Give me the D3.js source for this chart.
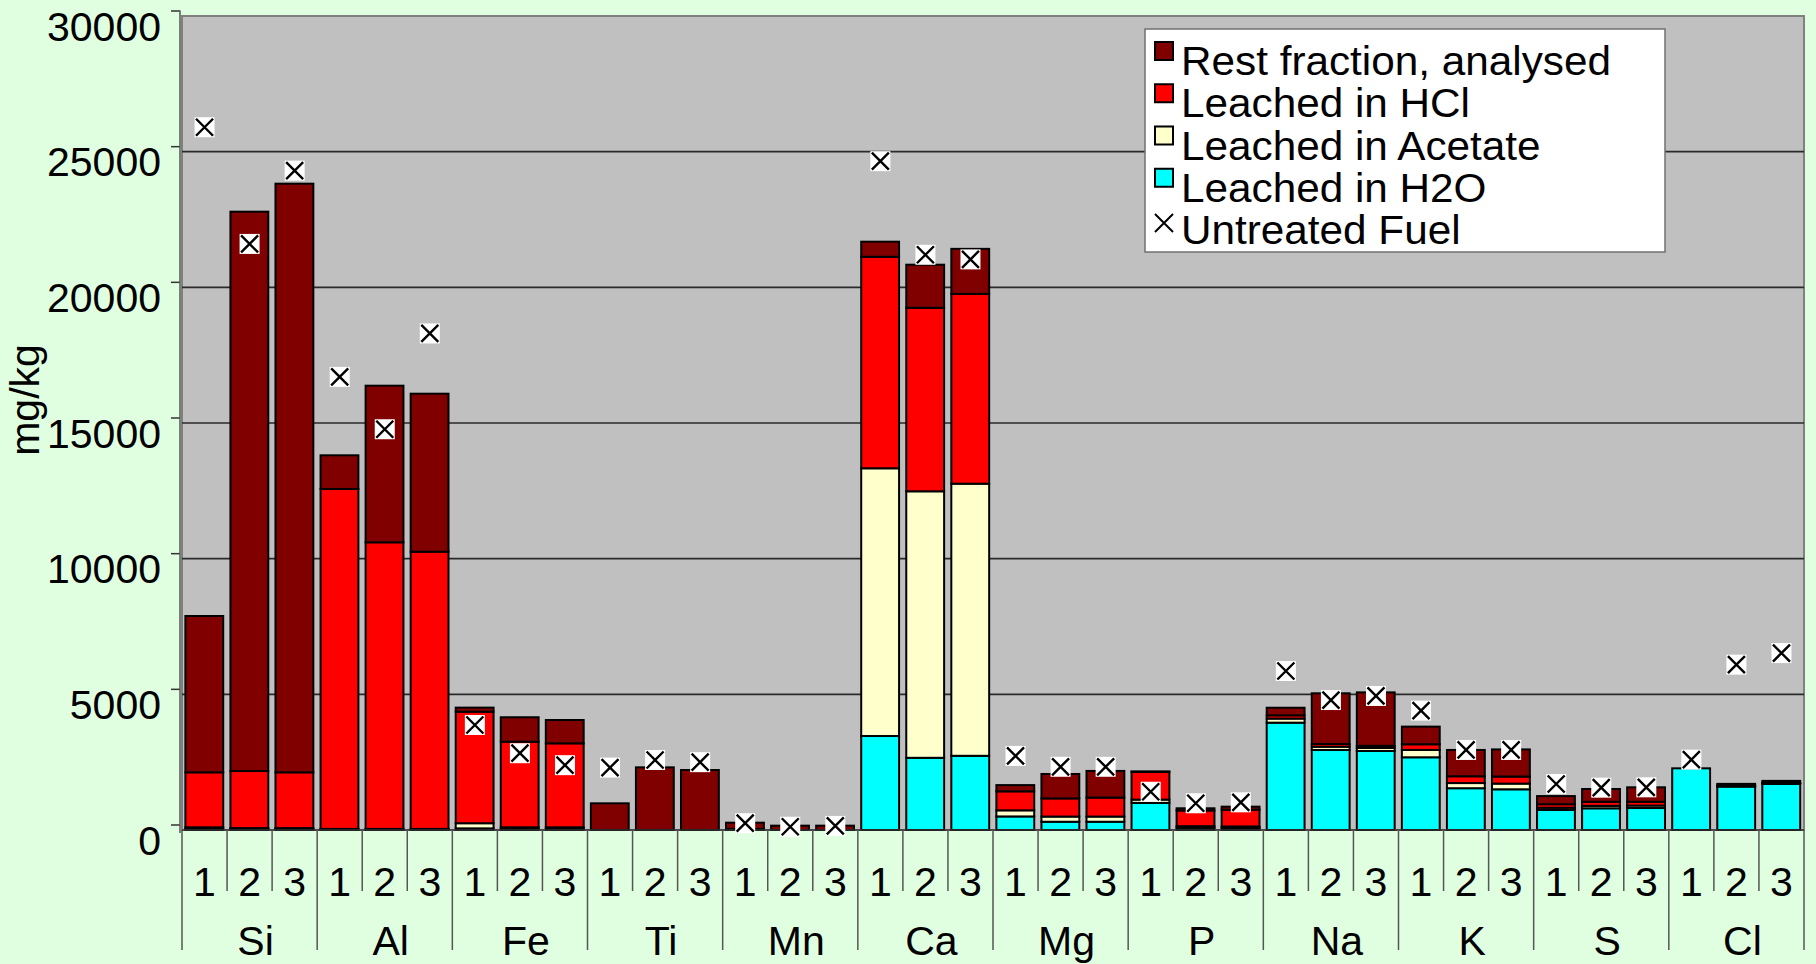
<!DOCTYPE html>
<html><head><meta charset="utf-8">
<script src="https://cdn.jsdelivr.net/npm/d3@7"></script>
<style>
html,body{margin:0;padding:0;background:#E0FFE0;}
svg{display:block;font-family:"Liberation Sans",Arial,sans-serif;}
</style></head>
<body>
<svg id="chart" width="1816" height="964"></svg>
<script>
const elements = ["Si","Al","Fe","Ti","Mn","Ca","Mg","P","Na","K","S","Cl"];
const samples = ["1","2","3"];
const seriesNames = ["Leached in H2O","Leached in Acetate","Leached in HCl","Rest fraction, analysed"];
const h2o = [40,30,30, 20,20,20, 60,40,40, 0,0,0, 0,0,0, 3464,2661,2735, 500,305,305, 1000,80,70, 3956,2948,2912, 2680,1540,1500, 740,800,810, 2273,1600,1700];
const acetate = [60,40,40, 20,20,20, 190,60,60, 0,0,0, 0,0,0, 9867,9822,10028, 225,190,190, 120,60,60, 150,120,110, 270,190,210, 80,90,90, 0,20,20];
const hcl = [2026,2104,2056, 12528,10563,10217, 4110,3155,3094, 0,0,0, 40,0,0, 7795,6763,6995, 700,670,700, 1020,580,620, 120,100,80, 210,250,260, 130,150,140, 0,20,20];
const rest = [5761,20614,21694, 1241,5772,5823, 150,900,860, 983,2309,2211, 230,160,160, 556,1588,1660, 230,900,982, 20,80,110, 280,1870,1970, 650,970,1000, 300,471,533, 0,60,70];
const untreated = [25900,21600,24300, 16700,14770,18300, 3870,2830,2390, 2300,2580,2500, 250,120,150, 24650,21200,21030, 2730,2330,2330, 1410,985,1020, 5860,4790,4940, 4400,2950,2950, 1695,1560,1573, 2592,6094,6520];
const yTicks = [0,5000,10000,15000,20000,25000,30000];
const colors = ["#00FFFF","#FFFFCC","#FF0000","#800000"];
const legendItems = ["Rest fraction, analysed","Leached in HCl","Leached in Acetate","Leached in H2O","Untreated Fuel"];
const legendColors = ["#800000","#FF0000","#FFFFCC","#00FFFF",null];

const svg = d3.select("#chart");
const X0 = 182, X1 = 1804, Y0 = 830, YT = 16;
const FONT = 41;

const keys = [];
elements.forEach(e => samples.forEach(s => keys.push(e + "_" + s)));
const x = d3.scaleBand().domain(keys).range([X0, X1]).padding(0);
const xg = d3.scaleBand().domain(elements).range([X0, X1]).padding(0);
const y = d3.scaleLinear().domain([0, 30000]).range([Y0, YT]);

// plot area
svg.append("rect").attr("x", X0).attr("y", YT).attr("width", X1 - X0).attr("height", Y0 - YT)
  .attr("fill", "#C0C0C0").attr("stroke", "#808080").attr("stroke-width", 2);

// gridlines
svg.append("g").selectAll("line").data(yTicks.filter(t => t > 0 && t < 30000)).join("line")
  .attr("x1", X0).attr("x2", X1).attr("y1", d => y(d)).attr("y2", d => y(d))
  .attr("stroke", "#2a2a2a").attr("stroke-width", 1.6);

// y axis
const yAxis = d3.axisLeft(y).tickValues(yTicks).tickSize(9).tickSizeOuter(0).tickFormat(d3.format("d"));
const ga = svg.append("g").attr("transform", "translate(180,-5.5)").call(yAxis);
ga.select(".domain").remove();
ga.selectAll(".tick line").attr("stroke", "#333").attr("stroke-width", 1.5);
ga.selectAll(".tick text").attr("x", -19).attr("dy", null).attr("y", 29.5)
  .attr("font-size", FONT).attr("fill", "#000").attr("font-family", '"Liberation Sans",Arial,sans-serif');
svg.append("line").attr("x1", 180).attr("x2", 180).attr("y1", y(30000) - 5.5).attr("y2", Y0 + 3)
  .attr("stroke", "#555").attr("stroke-width", 1.5);

// y title
svg.append("text").attr("transform", "translate(39,400) rotate(-90)").attr("text-anchor", "middle")
  .attr("font-size", FONT).text("mg/kg");

// stacked bars
const rows = keys.map((k, i) => ({key: k, v: [h2o[i], acetate[i], hcl[i], rest[i]]}));
const barInset = x.bandwidth() * 0.075, barW = x.bandwidth() * 0.84;
const gb = svg.append("g");
rows.forEach(r => {
  let acc = 0;
  r.v.forEach((val, si) => {
    const lo = acc, hi = acc + val; acc = hi;
    if (val <= 0) return;
    gb.append("rect").attr("x", x(r.key) + barInset).attr("width", barW)
      .attr("y", y(hi)).attr("height", y(lo) - y(hi))
      .attr("fill", colors[si]).attr("stroke", "#000").attr("stroke-width", 2);
  });
});

// x axis baseline
svg.append("line").attr("x1", X0).attr("x2", X1).attr("y1", Y0).attr("y2", Y0)
  .attr("stroke", "#333").attr("stroke-width", 1.5);

// separators
const bounds = keys.map(k => x(k)).concat([X1]);
svg.append("g").selectAll("line").data(bounds).join("line")
  .attr("x1", d => d).attr("x2", d => d).attr("y1", Y0)
  .attr("y2", (d, i) => (i % 3 === 0) ? 950 : 891)
  .attr("stroke", "#555").attr("stroke-width", 1.5);

// category labels
svg.append("g").selectAll("text").data(keys).join("text")
  .attr("x", d => x(d) + x.bandwidth() / 2).attr("y", 896).attr("text-anchor", "middle")
  .attr("font-size", FONT).text(d => d.split("_")[1]);
svg.append("g").selectAll("text").data(elements).join("text")
  .attr("x", d => xg(d) + xg.bandwidth() / 2 + 6).attr("y", 955).attr("text-anchor", "middle")
  .attr("font-size", FONT).text(d => d);

// untreated fuel markers
const gm = svg.append("g");
keys.forEach((k, i) => {
  const cx = x(k) + x.bandwidth() / 2, cy = y(untreated[i]);
  gm.append("rect").attr("x", cx - 10).attr("y", cy - 10).attr("width", 20).attr("height", 20).attr("fill", "#fff");
  gm.append("path").attr("d", `M${cx-8.5},${cy-8.5}L${cx+8.5},${cy+8.5}M${cx+8.5},${cy-8.5}L${cx-8.5},${cy+8.5}`)
    .attr("stroke", "#000").attr("stroke-width", 2.4).attr("fill", "none");
});

// legend
const lg = svg.append("g");
lg.append("rect").attr("x", 1145).attr("y", 29).attr("width", 520).attr("height", 223)
  .attr("fill", "#fff").attr("stroke", "#707070").attr("stroke-width", 1.5);
legendItems.forEach((name, i) => {
  const base = 75 + i * 42.25;
  if (legendColors[i]) {
    lg.append("rect").attr("x", 1155).attr("y", base - 33).attr("width", 18).attr("height", 18)
      .attr("fill", legendColors[i]).attr("stroke", "#000").attr("stroke-width", 2);
  } else {
    const cx = 1164, cy = base - 21;
    lg.append("path").attr("d", `M${cx-9},${cy-9}L${cx+9},${cy+9}M${cx+9},${cy-9}L${cx-9},${cy+9}`)
      .attr("stroke", "#000").attr("stroke-width", 2);
  }
  lg.append("text").attr("transform", `translate(1181,${base}) scale(1.057,1)`)
    .attr("font-size", 40).text(name);
});
</script>
</body></html>
